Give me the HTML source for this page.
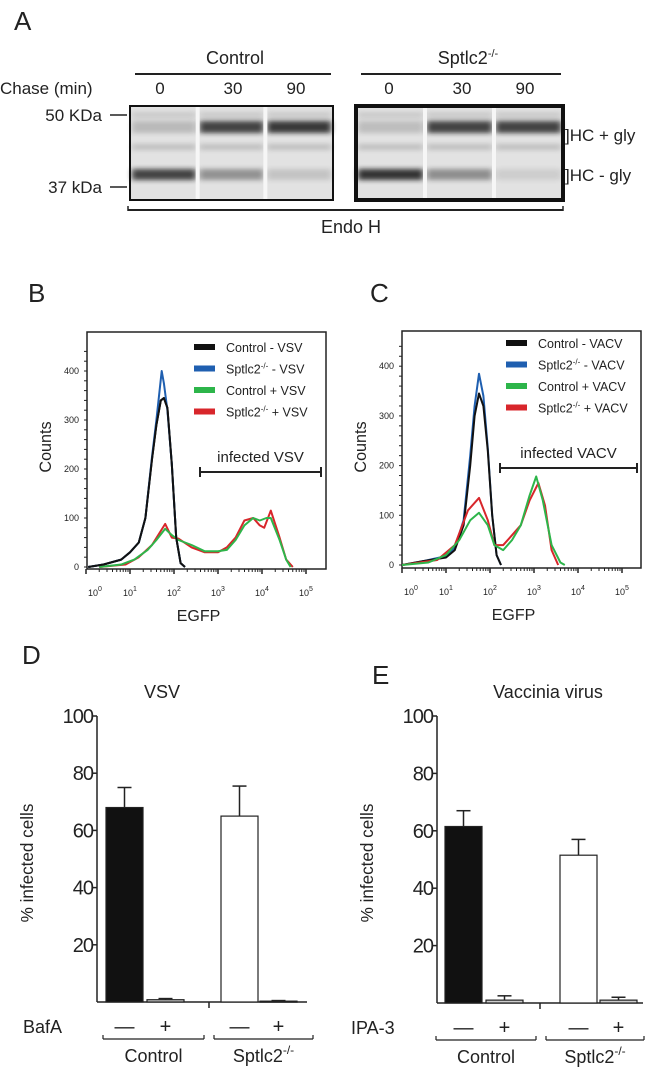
<!DOCTYPE html>
<html><head><meta charset="utf-8">
<style>
html,body{margin:0;padding:0;background:#fff;}
svg{display:block;font-family:"Liberation Sans",sans-serif;}
text{fill:#222;}
</style></head>
<body>
<svg id="fig" width="655" height="1068" viewBox="0 0 655 1068" xmlns="http://www.w3.org/2000/svg">
<defs>
<filter id="blur" x="-20%" y="-100%" width="140%" height="300%"><feGaussianBlur stdDeviation="3 2.4"/></filter>
</defs>
<!-- Panel A -->
<g>
<text x="14" y="30" font-size="26">A</text>
<text x="235" y="64" font-size="18" text-anchor="middle">Control</text>
<line x1="135" y1="74" x2="331" y2="74" stroke="#222" stroke-width="2"/>
<text x="468" y="64" font-size="18" text-anchor="middle">Sptlc2<tspan dy="-7" font-size="11">-/-</tspan></text>
<line x1="361" y1="74" x2="561" y2="74" stroke="#222" stroke-width="2"/>
<text x="0" y="94" font-size="17">Chase (min)</text>
<g font-size="17" text-anchor="middle">
<text x="160" y="94">0</text><text x="233" y="94">30</text><text x="296" y="94">90</text>
<text x="389" y="94">0</text><text x="462" y="94">30</text><text x="525" y="94">90</text>
</g>
<text x="102" y="121" font-size="17" text-anchor="end">50 KDa</text>
<line x1="110" y1="115" x2="127" y2="115" stroke="#222" stroke-width="1.5"/>
<text x="102" y="193" font-size="17" text-anchor="end">37 kDa</text>
<line x1="110" y1="187" x2="127" y2="187" stroke="#222" stroke-width="1.5"/>
<g id="gels"></g>
<text x="565" y="141" font-size="17">]HC + gly</text>
<text x="565" y="181" font-size="17">]HC - gly</text>
<line x1="128" y1="210" x2="563" y2="210" stroke="#222" stroke-width="2"/>
<line x1="128" y1="206" x2="128" y2="211" stroke="#222" stroke-width="1.5"/>
<line x1="563" y1="206" x2="563" y2="211" stroke="#222" stroke-width="1.5"/>
<text x="351" y="233" font-size="18" text-anchor="middle">Endo H</text>
</g>
<!-- Panel B/C -->
<text x="28" y="302" font-size="26">B</text>
<text x="370" y="302" font-size="26">C</text>
<g id="flowB"></g>
<g id="flowC"></g>
<!-- Panel D/E -->
<text x="22" y="664" font-size="26">D</text>
<text x="372" y="684" font-size="26">E</text>
<g id="barD"></g>
<g id="barE"></g>
</svg>
<script>
// ---------- data ----------
const gelCtrlUpper = [0.2, 0.8, 0.85];
const gelCtrlLower = [0.8, 0.4, 0.15];
const gelKoUpper = [0.18, 0.8, 0.8];
const gelKoLower = [0.88, 0.42, 0.1];

const bBlackX = [0.05,0.4,0.8,1.0,1.2,1.35,1.5,1.6,1.7,1.77,1.85,1.95,2.05,2.15,2.25];
const bBlackY = [0,5,15,30,50,100,220,290,340,345,325,210,60,8,0];
const bBlueX = [0.05,0.4,0.8,1.0,1.2,1.35,1.5,1.6,1.72,1.77,1.85,1.95,2.05,2.15,2.25];
const bBlueY = [0,5,15,30,50,100,225,300,400,375,320,210,60,8,0];
const bGreenX = [0.3,0.8,1.1,1.4,1.6,1.8,1.95,2.1,2.4,2.7,3.0,3.2,3.4,3.6,3.8,3.95,4.1,4.2,4.4,4.55,4.65];
const bGreenY = [0,5,15,35,55,78,65,55,45,32,32,35,55,85,100,95,100,100,55,15,0];
const bRedX = [0.3,0.9,1.2,1.5,1.8,1.95,2.1,2.4,2.7,3.0,3.2,3.4,3.6,3.8,3.95,4.05,4.2,4.4,4.55,4.7];
const bRedY = [0,5,20,45,88,60,58,40,30,30,40,60,95,100,85,80,115,60,15,0];
const cBlackX = [0,0.5,1.0,1.2,1.4,1.55,1.65,1.75,1.85,1.95,2.05,2.15,2.25];
const cBlackY = [0,8,15,30,80,200,300,345,320,230,100,20,0];
const cBlueX = [0,0.5,1.0,1.2,1.4,1.55,1.65,1.75,1.85,1.95,2.05,2.15,2.25];
const cBlueY = [0,8,18,35,90,220,320,385,340,235,100,20,0];
const cGreenX = [0,0.6,1.0,1.3,1.55,1.75,1.95,2.1,2.3,2.5,2.7,2.9,3.05,3.2,3.4,3.6,3.7];
const cGreenY = [0,5,20,50,90,105,80,40,30,50,80,140,178,130,40,5,0];
const cRedX = [0,0.8,1.2,1.5,1.75,1.95,2.1,2.3,2.5,2.7,2.9,3.1,3.25,3.4,3.55];
const cRedY = [0,10,40,110,135,90,40,40,60,80,130,165,120,30,0];
const flowYTicks = [0,100,200,300,400];
const flowXTicks = [0,1,2,3,4,5];

const dValues = [68, 0.8, 65, 0.3];
const dErrors = [7, 0.4, 10.5, 0.2];
const eValues = [61.5, 1, 51.5, 1];
const eErrors = [5.5, 1.5, 5.5, 1];
const barYTicks = [20,40,60,80,100];
const barGroups = ["Control", "Sptlc2"];
const barFills = ["#111","#ccc","#fff","#ccc"];

const NS = "http://www.w3.org/2000/svg";
function mk(tag, attrs, parent){
  const e = document.createElementNS(NS, tag);
  for (const k in attrs) e.setAttribute(k, attrs[k]);
  parent.appendChild(e);
  return e;
}

(function(){
  const g = document.getElementById('gels');
  function gel(x0, x1, upper, lower, name, sw){
    const grp = mk('g', {}, g);
    
    
    mk('rect', {x:x0, y:106, width:x1-x0, height:94, fill:'#e2e2e2'}, grp);
    const lw = (x1-x0)/3;
    for (let i=0;i<3;i++){
      const lx = x0 + i*lw;
      mk('rect', {x:lx+2, y:112, width:lw-4, height:6, fill:'#666', opacity:0.2, filter:'url(#blur)'}, grp);
      mk('rect', {x:lx+2, y:144, width:lw-4, height:6, fill:'#666', opacity:0.28, filter:'url(#blur)'}, grp);
      const up = mk('rect', {x:lx+2, y:121, width:lw-4, height:12, fill:'#1a1a1a', opacity:upper[i], filter:'url(#blur)'}, grp);
      
      
      const lo = mk('rect', {x:lx+2, y:169, width:lw-4, height:11, fill:'#1a1a1a', opacity:lower[i], filter:'url(#blur)'}, grp);
      
      
      if (i>0) mk('rect', {x:lx-2, y:106, width:4, height:94, fill:'#f6f6f6'}, grp);
    }
    mk('rect', {x:x0, y:106, width:x1-x0, height:94, fill:'none', stroke:'#111', 'stroke-width':sw}, grp);
  }
  gel(130, 333, gelCtrlUpper, gelCtrlLower, 'gel-control', 2);
  gel(356, 563, gelKoUpper, gelKoLower, 'gel-sptlc2', 4);
})();

function flow(id, opt){
  const g = document.getElementById(id);
  const xs = v => opt.x0 + opt.dec*v;
  const ys = v => opt.yz - opt.py*v;
  mk('rect', {x:opt.bx0, y:opt.by0, width:opt.bx1-opt.bx0, height:opt.by1-opt.by0, fill:'none', stroke:'#222', 'stroke-width':1.5}, g);
  for (let v=0; v<=440; v+=20){
    mk('line', {x1:opt.bx0-3, y1:ys(v), x2:opt.bx0, y2:ys(v), stroke:'#222', 'stroke-width':1}, g);
  }
  flowYTicks.forEach(v=>{
    const t = mk('text', {x:opt.bx0-8, y:ys(v)+3, 'font-size':9, 'text-anchor':'end', fill:'#444'}, g);
    t.textContent = v;
    
    
  });
  flowXTicks.forEach(d=>{
    mk('line', {x1:xs(d), y1:opt.by1, x2:xs(d), y2:opt.by1+5, stroke:'#222', 'stroke-width':1.5}, g);
    if (d<5) for (let m=2;m<10;m++){
      const xx = xs(d+Math.log10(m));
      mk('line', {x1:xx, y1:opt.by1, x2:xx, y2:opt.by1+3, stroke:'#222', 'stroke-width':1}, g);
    }
    const t = mk('text', {x:xs(d)+(d===0?9:0), y:opt.by1+27, 'font-size':9, 'text-anchor':'middle', fill:'#444'}, g);
    
    
    t.innerHTML = '10<tspan dy="-5" font-size="7">'+d+'</tspan>';
  });
  const xl = mk('text', {x:(opt.bx0+opt.bx1)/2-8, y:opt.by1+52, 'font-size':16, 'text-anchor':'middle'}, g);
  xl.textContent = 'EGFP';
  
  
  const yl = mk('text', {x:0, y:0, 'font-size':17, 'text-anchor':'middle', transform:'translate('+(opt.bx0-36)+',447) rotate(-90) scale(0.95,1)'}, g);
  yl.textContent = 'Counts';
  
  
  opt.series.forEach(s=>{
    const pts = s.x.map((v,i)=>xs(v).toFixed(1)+','+ys(s.y[i]).toFixed(1)).join(' ');
    const p = mk('polyline', {points:pts, fill:'none', stroke:s.c, 'stroke-width':2, 'stroke-linejoin':'round'}, g);
    
    
  });
  opt.legend.forEach((l,i)=>{
    const yy = opt.ly + i*21.5;
    const sw = mk('rect', {x:opt.lx, y:yy-3, width:21, height:6, fill:l.c}, g);
    
    
    const t = mk('text', {x:opt.lx+32, y:yy+5, 'font-size':12.5}, g);
    t.innerHTML = l.t;
    
    
  });
  const gl = mk('line', {x1:opt.gx0, y1:opt.gy, x2:opt.gx1, y2:opt.gy, stroke:'#222', 'stroke-width':2}, g);
  
  
  mk('line', {x1:opt.gx0, y1:opt.gy-5, x2:opt.gx0, y2:opt.gy+5, stroke:'#222', 'stroke-width':2}, g);
  mk('line', {x1:opt.gx1, y1:opt.gy-5, x2:opt.gx1, y2:opt.gy+5, stroke:'#222', 'stroke-width':2}, g);
  const gt = mk('text', {x:(opt.gx0+opt.gx1)/2, y:opt.gy-10, 'font-size':15, 'text-anchor':'middle'}, g);
  gt.textContent = opt.gate;
  
  
}
const sup = '<tspan dy="-5" font-size="8">-/-</tspan><tspan dy="5">';
flow('flowB', {x0:86, dec:44, yz:567, py:0.49, bx0:87, bx1:326, by0:332, by1:569,
  lx:194, ly:347, gx0:200, gx1:321, gy:472, gate:'infected VSV',
  series:[{x:bBlackX,y:bBlackY,c:'#111',name:'control-minus-vsv-line'},{x:bBlueX,y:bBlueY,c:'#1f5fb0',name:'sptlc2-minus-vsv-line'},{x:bRedX,y:bRedY,c:'#d8262b',name:'sptlc2-plus-vsv-line'},{x:bGreenX,y:bGreenY,c:'#2db54a',name:'control-plus-vsv-line'},{x:bBlackX,y:bBlackY,c:'#111',name:'control-minus-vsv-top'}],
  legend:[{c:'#111',t:'Control - VSV'},{c:'#1f5fb0',t:'Sptlc2'+sup+' - VSV</tspan>'},{c:'#2db54a',t:'Control + VSV'},{c:'#d8262b',t:'Sptlc2'+sup+' + VSV</tspan>'}]});
flow('flowC', {x0:402, dec:44, yz:565, py:0.497, bx0:402, bx1:641, by0:331, by1:568,
  lx:506, ly:343, gx0:500, gx1:637, gy:468, gate:'infected VACV',
  series:[{x:cBlueX,y:cBlueY,c:'#1f5fb0',name:'sptlc2-minus-vacv-line'},{x:cBlackX,y:cBlackY,c:'#111',name:'control-minus-vacv-line'},{x:cRedX,y:cRedY,c:'#d8262b',name:'sptlc2-plus-vacv-line'},{x:cGreenX,y:cGreenY,c:'#2db54a',name:'control-plus-vacv-line'}],
  legend:[{c:'#111',t:'Control - VACV'},{c:'#1f5fb0',t:'Sptlc2'+sup+' - VACV</tspan>'},{c:'#2db54a',t:'Control + VACV'},{c:'#d8262b',t:'Sptlc2'+sup+' + VACV</tspan>'}]});

function bars(id, o){
  const g = document.getElementById(id);
  const ys = v => o.y0 - (o.y0-o.y100)*v/100;
  mk('line', {x1:o.ax, y1:o.y100, x2:o.ax, y2:o.y0, stroke:'#222', 'stroke-width':1.5}, g);
  mk('line', {x1:o.ax, y1:o.y0, x2:o.ax1, y2:o.y0, stroke:'#222', 'stroke-width':1.5}, g);
  mk('line', {x1:o.mid, y1:o.y0, x2:o.mid, y2:o.y0+6, stroke:'#222', 'stroke-width':1.5}, g);
  barYTicks.forEach(v=>{
    mk('line', {x1:o.ax-4, y1:ys(v), x2:o.ax, y2:ys(v), stroke:'#222', 'stroke-width':1.5}, g);
    const t = mk('text', {x:o.ax-4, y:ys(v)+7, 'font-size':20, 'text-anchor':'end', 'letter-spacing':'-1'}, g);
    t.textContent = v;
    
    
  });
  o.vals.forEach((v,i)=>{
    const x = o.bx[i];
    const top = ys(v+o.errs[i]);
    mk('line', {x1:x+o.bw/2, y1:ys(v), x2:x+o.bw/2, y2:top, stroke:'#222', 'stroke-width':1.5}, g);
    mk('line', {x1:x+o.bw/2-7, y1:top, x2:x+o.bw/2+7, y2:top, stroke:'#222', 'stroke-width':1.5}, g);
    const r = mk('rect', {x:x, y:ys(v), width:o.bw, height:Math.max(o.y0-ys(v),1), fill:barFills[i], stroke:'#222', 'stroke-width':1.2}, g);
    
    
    const s = mk('text', {x:x+o.bw/2, y:o.y0+31, 'font-size':20, 'text-anchor':'middle'}, g);
    s.textContent = i%2 ? '+' : '—';
    
    
  });
  const tt = mk('text', {x:o.tx, y:o.y100-18, 'font-size':18, 'text-anchor':'middle'}, g);
  tt.textContent = o.title;
  
  
  const yl = mk('text', {x:0, y:0, 'font-size':18, 'text-anchor':'middle', transform:'translate('+(o.ax-64)+',863) rotate(-90) scale(0.95,1)'}, g);
  yl.textContent = '% infected cells';
  
  
  const tl = mk('text', {x:o.tlx, y:o.y0+31, 'font-size':18}, g);
  tl.textContent = o.treat;
  
  
  barGroups.forEach((name,i)=>{
    const x0 = o.gb[i][0], x1 = o.gb[i][1];
    mk('line', {x1:x0, y1:o.y0+37, x2:x1, y2:o.y0+37, stroke:'#222', 'stroke-width':1.2}, g);
    mk('line', {x1:x0, y1:o.y0+33, x2:x0, y2:o.y0+37, stroke:'#222', 'stroke-width':1.2}, g);
    mk('line', {x1:x1, y1:o.y0+33, x2:x1, y2:o.y0+37, stroke:'#222', 'stroke-width':1.2}, g);
    const t = mk('text', {x:(x0+x1)/2, y:o.y0+60, 'font-size':18, 'text-anchor':'middle'}, g);
    t.innerHTML = i===0 ? name : name+'<tspan dy="-8" font-size="12">-/-</tspan>';
    
    
  });
}
bars('barD', {ax:97, ax1:307, y0:1002, y100:716, mid:209, bw:37, bx:[106,147,221,260],
  vals:dValues, errs:dErrors, title:'VSV', tx:162, treat:'BafA', tlx:23,
  gb:[[103,204],[214,313]]});
bars('barE', {ax:437, ax1:643, y0:1003, y100:716, mid:540, bw:37, bx:[445,486,560,600],
  vals:eValues, errs:eErrors, title:'Vaccinia virus', tx:548, treat:'IPA-3', tlx:351,
  gb:[[436,536],[546,644]]});
</script>
</body></html>
